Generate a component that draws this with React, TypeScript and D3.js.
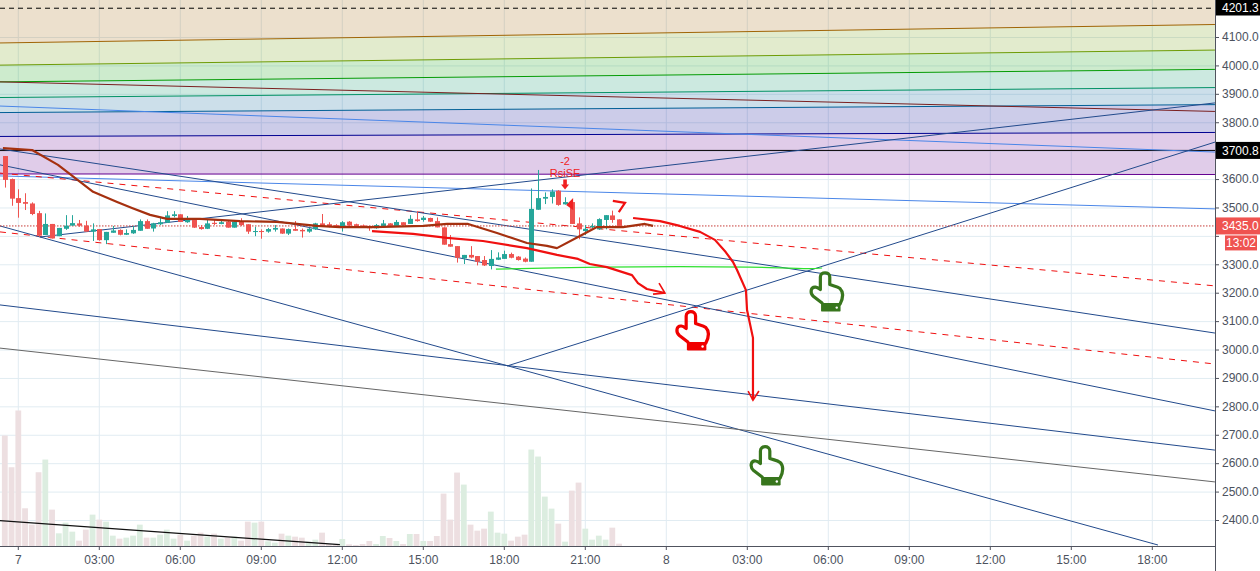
import React from "react";
import * as d3 from "d3";

const W = 1260, H = 571, R = 1215, B = 546;

const opens = [3681,3600,3533,3519,3514,3480,3403,3442,3399,3425,3436,3444,3436,3415,3424,3385,3411,3421,3404,3409,3418,3452,3426,3441,3446,3470,3476,3448,3456,3431,3425,3446,3442,3450,3429,3452,3441,3415,3417,3415,3422,3426,3408,3424,3421,3415,3423,3444,3441,3438,3432,3450,3441,3437,3435,3427,3435,3444,3435,3448,3442,3458,3456,3463,3452,3430,3371,3364,3321,3333,3329,3315,3294,3316,3319,3336,3327,3320,3309,3492,3531,3537,3559,3511,3519,3444,3417,3430,3423,3456,3472,3458];
const highs = [3681,3602,3564,3550,3518,3488,3479,3442,3428,3473,3473,3456,3453,3444,3424,3414,3435,3423,3423,3435,3458,3458,3446,3464,3487,3487,3476,3470,3458,3438,3456,3458,3456,3453,3456,3462,3441,3432,3423,3428,3438,3426,3426,3452,3426,3429,3446,3477,3448,3441,3452,3452,3443,3440,3435,3442,3456,3445,3456,3448,3473,3487,3470,3464,3465,3430,3403,3364,3333,3364,3329,3329,3350,3342,3348,3341,3329,3324,3567,3632,3553,3564,3561,3536,3519,3465,3438,3444,3462,3473,3489,3458];
const lows = [3570,3506,3464,3491,3473,3397,3403,3391,3399,3421,3436,3432,3415,3382,3383,3371,3411,3402,3403,3407,3418,3425,3415,3438,3446,3465,3449,3446,3428,3422,3424,3438,3441,3429,3429,3435,3407,3399,3390,3411,3415,3407,3403,3418,3394,3411,3421,3432,3430,3430,3415,3434,3433,3428,3418,3425,3432,3434,3432,3437,3442,3450,3450,3449,3430,3369,3362,3306,3301,3321,3296,3294,3282,3315,3319,3321,3313,3307,3309,3492,3512,3514,3506,3510,3442,3388,3403,3427,3421,3423,3446,3435];
const closes = [3597,3531,3516,3513,3477,3401,3442,3391,3428,3436,3445,3436,3415,3423,3385,3414,3419,3404,3410,3421,3452,3425,3444,3448,3472,3476,3449,3456,3429,3424,3444,3442,3448,3429,3450,3438,3415,3417,3415,3424,3428,3408,3424,3418,3416,3425,3444,3432,3432,3432,3448,3436,3435,3430,3427,3438,3444,3435,3449,3438,3460,3452,3464,3450,3430,3369,3362,3323,3333,3324,3309,3296,3319,3324,3336,3323,3315,3309,3495,3533,3537,3556,3509,3519,3442,3423,3425,3435,3459,3473,3456,3435];
const volumes = [331,236,406,113,64,221,259,109,38,70,43,16,49,94,79,73,31,22,25,31,64,25,25,34,49,22,34,16,31,40,28,37,22,25,28,16,73,70,73,14,10,37,31,28,25,13,19,40,6,5,21,5,3,6,15,6,30,24,15,6,36,36,15,15,30,157,79,220,184,64,46,52,103,40,37,16,28,34,289,268,148,112,67,13,166,190,52,19,31,19,55,7];

const priceTicks = d3.range(2400, 4200, 100);
const hiddenPriceLabels = [3400, 3700];
const timeHours = [0,3,6,9,12,15,18,21,24,27,30,33,36,39,42];
const timeLabels = ["7","03:00","06:00","09:00","12:00","15:00","18:00","21:00","8","03:00","06:00","09:00","12:00","15:00","18:00"];

const T0 = -0.68, T1 = 44.32;
const bandPrices: [number, number][] = [[4232,4232],[4079,4144],[4001,4054],[3942,3986],[3887,3922],[3834,3862],[3750,3764],[3618,3616]];
const bandColors = ["rgb(160,100,5)","rgb(110,155,5)","rgb(5,155,5)","rgb(0,145,100)","rgb(0,95,150)","rgb(0,0,145)","rgb(100,0,145)"];

type Seg = [number, number, number, number];
const navySegs: Seg[] = [
  [T0,3706,T1,3058],
  [T0,3650,T1,2784],
  [T0,3435,42.21,2312],
  [T0,3157,T1,2646],
  [18.1,2942,T1,3730],
  [0.8,3396,T1,3868],
];
const greySeg: Seg = [T0,3005,T1,2534];
const blackSeg: Seg = [T0,2397.5,11.91,2313];
const darkRedSeg: Seg = [T0,3942,T1,3838];
const blueSegs: Seg[] = [[T0,3857,T1,3695],[T0,3611,T1,3495]];
const dashedSegs: Seg[] = [[T0,3621,T1,3224],[T0,3414,T1,2949]];

const maLine: [number, number][] = [[-0.57,3709],[0.51,3702],[1.47,3650],[2.29,3590],[2.77,3555],[3.66,3519],[4.21,3498],[4.88,3474],[5.51,3460],[6.73,3460],[8.21,3452],[9.58,3449],[11.06,3435],[11.91,3431],[13.14,3431],[15,3435],[15.88,3442],[16.66,3442],[17.73,3410],[18.84,3375],[19.58,3365],[19.95,3357],[20.73,3396],[21.43,3431],[22.4,3431],[23.21,3442],[23.51,3435]];
const redA: [number, number][] = [[13.1,3417],[14.62,3407],[15.88,3393],[17.21,3382],[18.84,3357],[19.95,3333],[20.73,3319],[21.17,3301],[21.8,3290],[22.73,3262],[22.95,3234],[23.28,3213],[23.95,3199]];
const redAHead: [number, number][] = [[23.73,3234],[23.95,3199],[23.51,3195]];
const redB: [number, number][] = [[22.77,3463],[23.77,3452],[24.5,3435],[25.25,3414],[25.8,3386],[26.2,3343],[26.47,3308],[26.62,3280],[26.95,3209],[26.99,3139],[27.21,3041],[27.21,2822]];
const redBHead: [number, number][] = [[27.03,2854],[27.21,2822],[27.43,2854]];
const redSeven: [number, number][] = [[22.02,3523],[22.47,3516],[22.24,3484]];
const greenCurve: [number, number][] = [[17.69,3283],[21.54,3290],[24.5,3292],[27.1,3290],[29.32,3285],[29.77,3287]];
const hands: [number, number, string][] = [[24.91,3132,"#f00000"],[29.88,3269,"#38761d"],[27.66,2657,"#38761d"]];

const LAST = 3435, HI = 4201.3, FIB = 3700.8;

const x = d3.scaleLinear().domain([0, 45]).range([18.3, 1233.3]);
const y = d3.scaleLinear().domain([2400, 4100]).range([520, 37]);
const v = d3.scaleLinear().domain([0, 406]).range([B, B - 135.5]);
const barT = (i: number) => -0.5 + 0.25 * i;
const lineGen = d3.line<[number, number]>().x(d => x(d[0])).y(d => y(d[1]));
const curveGen = d3.line<[number, number]>().x(d => x(d[0])).y(d => y(d[1])).curve(d3.curveCatmullRom);

const font = "'Liberation Sans', Arial, sans-serif";
const UP = "#26a69a", DN = "#ef5350";

function Seg({ s, ...p }: { s: Seg } & React.SVGProps<SVGLineElement>) {
  return <line x1={x(s[0])} y1={y(s[1])} x2={x(s[2])} y2={y(s[3])} {...p} />;
}

function Hand({ t, p, c }: { t: number; p: number; c: string }) {
  const ox = x(t), oy = y(p);
  return (
    <g transform={`translate(${ox},${oy})`}>
      <path d="M-3 30 L-11.5 23.5 C-15.5 20 -14.5 13.5 -9.5 14 C-7.5 14.2 -6 15.5 -4.7 16.5 L-4.7 4 C-4.7 -1.8 4.7 -1.8 4.7 4 L4.7 11.5 C9 13 12.5 13.5 15 15.5 C18.5 19 18 25 15 31" fill="none" stroke={c} strokeWidth={3.2} strokeLinejoin="round" strokeLinecap="round" />
      <rect x={-4} y={30} width={19.5} height={8.5} rx={1.2} fill={c} />
      <circle cx={11.7} cy={34.5} r={1.2} fill="#fff" />
    </g>
  );
}

function Tag({ p, txt, fill }: { p: number; txt: string; fill: string }) {
  const cy = y(p);
  const top = Math.max(0, cy - 8.5);
  const h = cy - 8.5 < 0 ? 15.5 : 17;
  return (
    <g>
      <rect x={R + 1} y={top} width={W - R - 1} height={h} fill={fill} />
      <text x={1222} y={top + h / 2 + 4.3} fontSize={12} fill="#fff" fontFamily={font}>{txt}</text>
    </g>
  );
}

export default function App() {
  return (
    <svg width={W} height={H} viewBox={`0 0 ${W} ${H}`} style={{ position: "fixed", left: 0, top: 0, background: "#fff" }} fontFamily={font}>
      <defs>
        <clipPath id="pane"><rect x={0} y={0} width={R} height={B} /></clipPath>
      </defs>
      <g clipPath="url(#pane)">
        {priceTicks.map(t => <line key={t} x1={0} x2={R} y1={y(t) + 0.5} y2={y(t) + 0.5} stroke="#e1ecf2" />)}
        {timeHours.map(t => <line key={t} x1={x(t)} x2={x(t)} y1={0} y2={B} stroke="#e1ecf2" />)}
        {volumes.map((vol, i) => (
          <rect key={i} x={x(barT(i)) - 2.9} width={5.8} y={v(vol)} height={B - v(vol)} fill={closes[i] >= opens[i] ? "#dcede0" : "#eddfe1"} />
        ))}
        {bandColors.map((c, i) => {
          const a = bandPrices[i], b = bandPrices[i + 1];
          const pts: [number, number][] = [[T0, a[0]], [T1, a[1]], [T1, b[1]], [T0, b[0]]];
          return <path key={c} d={lineGen(pts) + "Z"} fill={c} fillOpacity={0.2} />;
        })}
        {bandPrices.slice(1).map((b, i) => (
          <Seg key={i} s={[T0, b[0], T1, b[1]]} stroke={bandColors[i]} strokeWidth={1} />
        ))}
        <line x1={0} x2={R} y1={y(HI)} y2={y(HI)} stroke="#000" strokeDasharray="5 4" />
        <line x1={0} x2={R} y1={y(FIB)} y2={y(FIB)} stroke="#000" />
        <Seg s={darkRedSeg} stroke="#7a1f1f" />
        {blueSegs.map((s, i) => <Seg key={i} s={s} stroke="#4a86e8" />)}
        {dashedSegs.map((s, i) => <Seg key={i} s={s} stroke="#f01010" strokeDasharray="6 6" />)}
        {navySegs.map((s, i) => <Seg key={i} s={s} stroke="#224a8c" />)}
        <Seg s={greySeg} stroke="#666" />
        <Seg s={blackSeg} stroke="#111" strokeWidth={1.2} />
        <line x1={0} x2={R} y1={y(LAST)} y2={y(LAST)} stroke="#c63b38" strokeDasharray="1.5 1.5" />
        {opens.map((o, i) => {
          const c = closes[i], cx = Math.round(x(barT(i))) + 0.5;
          const col = c >= o ? UP : DN;
          const top = y(Math.max(o, c)), bot = y(Math.min(o, c));
          return (
            <g key={i}>
              <line x1={cx} x2={cx} y1={y(highs[i])} y2={y(lows[i])} stroke={col} />
              <rect x={cx - 2.5} width={5} y={top} height={Math.max(1, bot - top)} fill={col} />
            </g>
          );
        })}
        <path d={curveGen(greenCurve) ?? ""} fill="none" stroke="#2fe02f" strokeWidth={1.2} />
        <path d={lineGen(maLine) ?? ""} fill="none" stroke="#a5300f" strokeWidth={2.2} strokeLinejoin="round" />
        <path d={lineGen(redA) ?? ""} fill="none" stroke="#f01010" strokeWidth={2.2} strokeLinejoin="round" />
        <path d={lineGen(redAHead) ?? ""} fill="none" stroke="#f01010" strokeWidth={1.6} />
        <path d={lineGen(redB) ?? ""} fill="none" stroke="#f01010" strokeWidth={2.2} strokeLinejoin="round" />
        <path d={lineGen(redBHead) ?? ""} fill="none" stroke="#f01010" strokeWidth={1.6} />
        <path d={lineGen(redSeven) ?? ""} fill="none" stroke="#f01010" strokeWidth={2.2} />
        {hands.map((h, i) => <Hand key={i} t={h[0]} p={h[1]} c={h[2]} />)}
        <g transform={`translate(${x(20.25)},${y(3563)})`} fill="#f02020">
          <path d="M0 0 L-4 -5 L-1.8 -5 L-1.8 -10 L1.8 -10 L1.8 -5 L4 -5 Z" />
          <text x={0} y={-13} fontSize={11} textAnchor="middle">RsiSE</text>
          <text x={0} y={-25} fontSize={11} textAnchor="middle">-2</text>
        </g>
        <path d={`M${x(20.29)} ${y(3509)} l7 -7 l0 12 Z`} fill="#f02020" />
      </g>
      <line x1={0} x2={R} y1={B + 0.5} y2={B + 0.5} stroke="#50535e" />
      <line x1={R + 0.5} x2={R + 0.5} y1={0} y2={H} stroke="#50535e" />
      {timeHours.map((t, i) => (
        <g key={t}>
          <line x1={x(t)} x2={x(t)} y1={B} y2={B + 4} stroke="#50535e" />
          <text x={x(t)} y={564} fontSize={12} fill="#4c525e" textAnchor="middle">{timeLabels[i]}</text>
        </g>
      ))}
      {priceTicks.map(t => (
        <g key={t}>
          <line x1={R} x2={R + 4} y1={y(t) + 0.5} y2={y(t) + 0.5} stroke="#50535e" />
          {!hiddenPriceLabels.includes(t) && <text x={1222} y={y(t) + 4.3} fontSize={12} fill="#4c525e">{d3.format(".1f")(t)}</text>}
        </g>
      ))}
      <Tag p={HI} txt={d3.format(".1f")(HI)} fill="#000" />
      <Tag p={FIB} txt={d3.format(".1f")(FIB)} fill="#000" />
      <Tag p={LAST} txt={d3.format(".1f")(LAST)} fill={DN} />
      <rect x={1225} y={y(LAST) + 9.5} width={32} height={15} fill={DN} />
      <text x={1241} y={y(LAST) + 21} fontSize={12} fill="#fff" textAnchor="middle">13:02</text>
    </svg>
  );
}
